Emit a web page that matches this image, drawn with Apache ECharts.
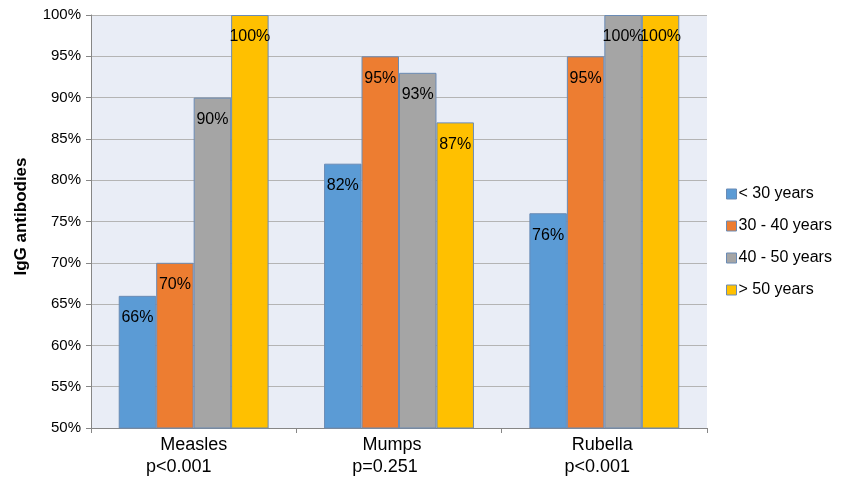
<!DOCTYPE html>
<html><head><meta charset="utf-8">
<script src="https://cdn.jsdelivr.net/npm/echarts@6/dist/echarts.min.js"></script>
<style>html,body{margin:0;padding:0;background:#fff}#c{width:842px;height:481px}</style>
</head><body><div id="c"></div>
<script>
const categories = ['Measles', 'Mumps', 'Rubella'];
const pValues = ['p<0.001', 'p=0.251', 'p<0.001'];
const seriesNames = ['< 30 years', '30 - 40 years', '40 - 50 years', '> 50 years'];
const under30 = [66, 82, 76];
const age30to40 = [70, 95, 95];
const age40to50 = [90, 93, 100];
const over50 = [100, 87, 100];
const colors = ['#5B9BD5', '#ED7D31', '#A5A5A5', '#FFC000'];
const values = [under30, age30to40, age40to50, over50];
const nameShift = [0, 14, 4];
const pShift = [30, 28, 14];

const richStyles = { };
categories.forEach((c, i) => {
  richStyles['a' + i] = { fontSize: 18, lineHeight: 22, fontFamily: 'Liberation Sans', padding: [0, nameShift[i], 0, 0] };
  richStyles['b' + i] = { fontSize: 18, lineHeight: 22, fontFamily: 'Liberation Sans', padding: [0, pShift[i], 0, 0] };
});

const chart = echarts.init(document.getElementById('c'));
chart.setOption({
  animation: false,
  textStyle: { fontFamily: 'Liberation Sans, Arial, sans-serif' },
  grid: { left: 91, right: 135, top: 15, bottom: 53, backgroundColor: '#E9EDF6', show: true, borderWidth: 0 },
  legend: {
    orient: 'vertical', left: 721, top: 181, itemGap: 16,
    itemWidth: 10, itemHeight: 10, icon: 'rect',
    itemStyle: { borderColor: '#6A8BB5', borderWidth: 1 },
    textStyle: { fontSize: 16, color: '#000', fontFamily: 'Liberation Sans, Arial, sans-serif', padding: [0, 0, 0, -3] },
    data: seriesNames
  },
  xAxis: {
    type: 'category', data: categories,
    axisLine: { lineStyle: { color: '#868686' } },
    axisTick: { show: true, length: 5, lineStyle: { color: '#868686' } },
    axisLabel: {
      color: '#000', margin: 6,
      formatter: (v, i) => '{a' + i + '|' + v + '}\n{b' + i + '|' + pValues[i] + '}',
      rich: richStyles
    }
  },
  yAxis: {
    type: 'value', min: 50, max: 100, interval: 5,
    name: 'IgG antibodies', nameLocation: 'middle', nameGap: 61,
    nameTextStyle: { fontSize: 17, fontWeight: 'bold', color: '#000', padding: [0, 0, 0, 10] },
    axisLine: { show: true, lineStyle: { color: '#868686' } },
    axisTick: { show: true, length: 5, inside: false, lineStyle: { color: '#868686' } },
    axisLabel: { fontSize: 15, color: '#000', formatter: '{value}%', margin: 10 },
    splitLine: { lineStyle: { color: '#B4B4B4', width: 1 } }
  },
  series: values.map((v, i) => ({
    name: seriesNames[i], type: 'bar', data: v,
    barGap: '0%', barCategoryGap: '27%',
    itemStyle: { color: colors[i], borderColor: '#6A8BB5', borderWidth: 1 },
    label: { show: true, position: 'insideTop', distance: 14, formatter: '{c}%', fontSize: 16, color: '#000' }
  }))
});
</script></body></html>
